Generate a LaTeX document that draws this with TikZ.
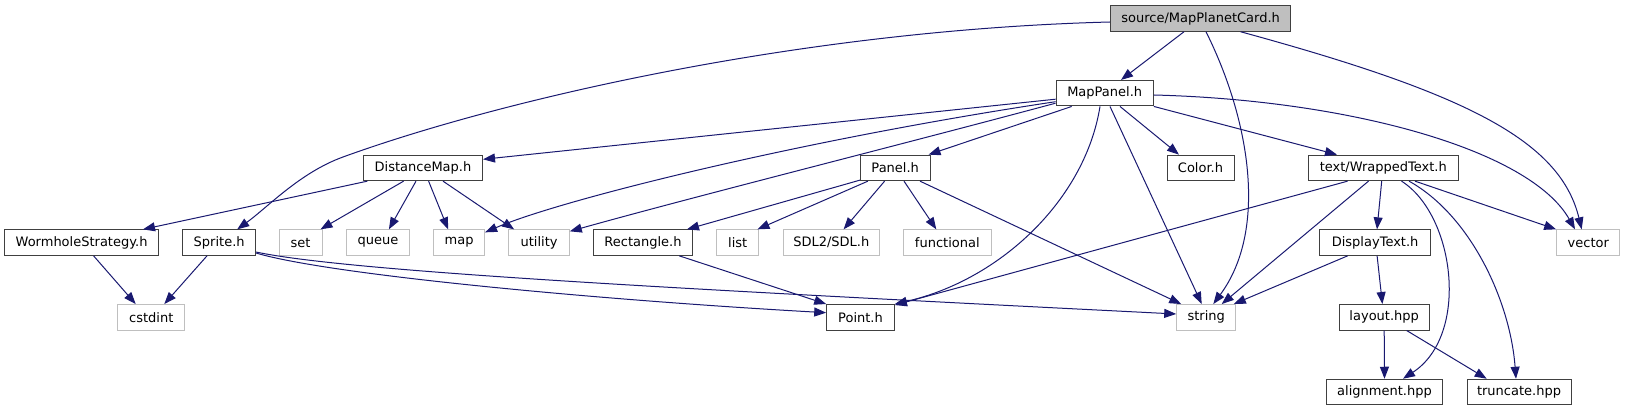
\documentclass[tikz,border=0pt]{standalone}
\usepackage{fontspec}
\setmainfont{DejaVu Sans}
\usepackage{tikz}
\usetikzlibrary{arrows.meta}

\definecolor{edgeblue}{HTML}{191970}
\definecolor{boxgrey}{HTML}{BFBFBF}
\definecolor{boxline}{HTML}{404040}

\begin{document}
\begin{tikzpicture}[x=1pt,y=-1pt,
    file/.style={draw=boxline,fill=white,line width=1pt,minimum height=25.5pt,
        inner sep=0pt,font=\fontsize{13}{15}\selectfont},
    sysfile/.style={file,draw=boxgrey},
    rootfile/.style={file,fill=boxgrey},
    inc/.style={draw=edgeblue,line width=1pt,-{Triangle[length=12pt,width=9pt]}}
]

\useasboundingbox (0,0) rectangle (1625,411);

% Root
\node[rootfile,minimum width=180pt] (card) at (1200.6,18.5) {source/MapPlanetCard.h};

% Row 2
\node[file,minimum width=97.3pt] (mappanel) at (1104.7,93.2) {MapPanel.h};

% Row 3
\node[file,minimum width=119pt] (distmap) at (423,167.9) {DistanceMap.h};
\node[file,minimum width=69.6pt] (panel) at (895.2,167.9) {Panel.h};
\node[file,minimum width=67pt] (color) at (1200.5,167.9) {Color.h};
\node[file,minimum width=150pt] (wrapped) at (1383.3,167.9) {text/WrappedText.h};

% Row 4
\node[file,minimum width=154pt] (wormhole) at (81.6,242.6) {WormholeStrategy.h};
\node[file,minimum width=72.5pt] (sprite) at (219.2,242.6) {Sprite.h};
\node[sysfile,minimum width=43pt] (set) at (300.5,242.6) {set};
\node[sysfile,minimum width=63pt] (queue) at (377.9,242.6) {queue};
\node[sysfile,minimum width=51pt] (map) at (459.1,242.6) {map};
\node[sysfile,minimum width=60.4pt] (utility) at (539.1,242.6) {utility};
\node[file,minimum width=99pt] (rect) at (643,242.6) {Rectangle.h};
\node[sysfile,minimum width=42.5pt] (list) at (737.7,242.6) {list};
\node[sysfile,minimum width=96pt] (sdl) at (831.3,242.6) {SDL2/SDL.h};
\node[sysfile,minimum width=87.4pt] (functional) at (947.3,242.6) {functional};
\node[file,minimum width=110.6pt] (displaytext) at (1375.1,242.6) {DisplayText.h};
\node[sysfile,minimum width=63.3pt] (vector) at (1588.3,242.6) {vector};

% Row 5
\node[sysfile,minimum width=66.7pt] (cstdint) at (151.3,317.3) {cstdint};
\node[file,minimum width=67.6pt] (point) at (860.5,317.3) {Point.h};
\node[sysfile,minimum width=59pt] (string) at (1206.2,317.3) {string};
\node[file,minimum width=90.3pt] (layout) at (1384.2,317.3) {layout.hpp};

% Row 6
\node[file,minimum width=115.4pt] (alignment) at (1384.5,392) {alignment.hpp};
\node[file,minimum width=104pt] (truncate) at (1519,392) {truncate.hpp};

% Includes of the root
\draw[inc] ([xshift=-16.6pt]card.south) -- ([xshift=16.3pt]mappanel.north);
\draw[inc] ([yshift=-3.5pt]card.west) .. controls (800,30) and (500,100) .. (343,157)
    .. controls (300,172.6) and (268,207) .. ([xshift=18pt]sprite.north);
\draw[inc] ([xshift=5.4pt]card.south) .. controls (1250,120) and (1268,230) .. ([xshift=7.1pt]string.north);
\draw[inc] ([xshift=40pt]card.south) .. controls (1465,93) and (1560,140) .. ([xshift=-6.6pt]vector.north);

% MapPanel.h
\draw[inc] ([yshift=-6pt]mappanel.west) -- ([yshift=8.6pt]distmap.east);
\draw[inc] ([yshift=-8.5pt]mappanel.west) .. controls (800,140) and (560,200) .. ([yshift=-3pt]map.north east);
\draw[inc] ([yshift=-10pt]mappanel.west) .. controls (900,145) and (700,195) .. ([yshift=-2pt]utility.north east);
\draw[inc] ([xshift=-33pt]mappanel.south) -- ([xshift=-2pt]panel.north east);
\draw[inc] ([xshift=-4.7pt]mappanel.south) .. controls (1085,200) and (1000,280) .. (point.north east);
\draw[inc] ([xshift=5.3pt]mappanel.south) -- ([xshift=-4.5pt]string.north);
\draw[inc] ([xshift=15.3pt]mappanel.south) -- ([xshift=-21.5pt]color.north);
\draw[inc] (mappanel.south east) -- ([xshift=-46.3pt]wrapped.north);
\draw[inc] ([yshift=-1.8pt]mappanel.east) .. controls (1350,100) and (1530,150) .. ([xshift=-13.3pt]vector.north);

% DistanceMap.h
\draw[inc] ([xshift=4.4pt]distmap.south west) -- ([xshift=61.4pt]wormhole.north);
\draw[inc] ([xshift=-19.4pt]distmap.south) -- ([xshift=-2pt]set.north east);
\draw[inc] ([xshift=-7pt]distmap.south) -- ([xshift=11pt]queue.north);
\draw[inc] ([xshift=5.6pt]distmap.south) -- ([xshift=-11pt]map.north);
\draw[inc] ([xshift=20pt]distmap.south) -- ([xshift=-25pt]utility.north);

% Panel.h
\draw[inc] ([yshift=1pt]panel.south west) -- ([xshift=-6pt]rect.north east);
\draw[inc] ([xshift=8pt]panel.south west) -- ([xshift=-2pt]list.north east);
\draw[inc] ([xshift=-10.6pt]panel.south) -- ([xshift=12.3pt]sdl.north);
\draw[inc] ([xshift=8.8pt]panel.south) -- ([xshift=-11pt]functional.north);
\draw[inc] ([xshift=24.8pt]panel.south) -- ([xshift=5pt]string.north west);

% text/WrappedText.h
\draw[inc] ([xshift=-35.7pt]wrapped.south) -- ([yshift=-1pt]point.north east);
\draw[inc] ([xshift=-14.8pt]wrapped.south) -- ([xshift=15.5pt]string.north);
\draw[inc] ([xshift=-1.6pt]wrapped.south) -- ([xshift=1.9pt]displaytext.north);
\draw[inc] ([xshift=18.2pt]wrapped.south) .. controls (1455,215) and (1470,335) .. ([xshift=18.5pt]alignment.north);
\draw[inc] ([xshift=25.7pt]wrapped.south) .. controls (1470,215) and (1510,300) .. ([xshift=-3pt]truncate.north);
\draw[inc] ([xshift=31.7pt]wrapped.south) -- (vector.north west);

% DisplayText.h, layout.hpp
\draw[inc] ([xshift=-27.5pt]displaytext.south) -- ([xshift=-2.4pt]string.north east);
\draw[inc] ([xshift=2pt]displaytext.south) -- ([xshift=-1.8pt]layout.north);
\draw[inc] (layout.south) -- (alignment.north);
\draw[inc] ([xshift=22.5pt]layout.south) -- ([xshift=-32.3pt]truncate.north);

% WormholeStrategy.h, Sprite.h, Rectangle.h
\draw[inc] ([xshift=12pt]wormhole.south) -- ([xshift=-15.6pt]cstdint.north);
\draw[inc] ([xshift=-12.2pt]sprite.south) -- ([xshift=13pt]cstdint.north);
\draw[inc] ([yshift=-10.4pt]sprite.east) .. controls (330,275) and (600,300) .. ([yshift=4.6pt]point.west);
\draw[inc] ([yshift=-9.4pt]sprite.east) .. controls (350,272) and (700,290) .. ([yshift=3.3pt]string.west);
\draw[inc] ([xshift=36.3pt]rect.south) -- (point.north west);

\end{tikzpicture}
\end{document}
